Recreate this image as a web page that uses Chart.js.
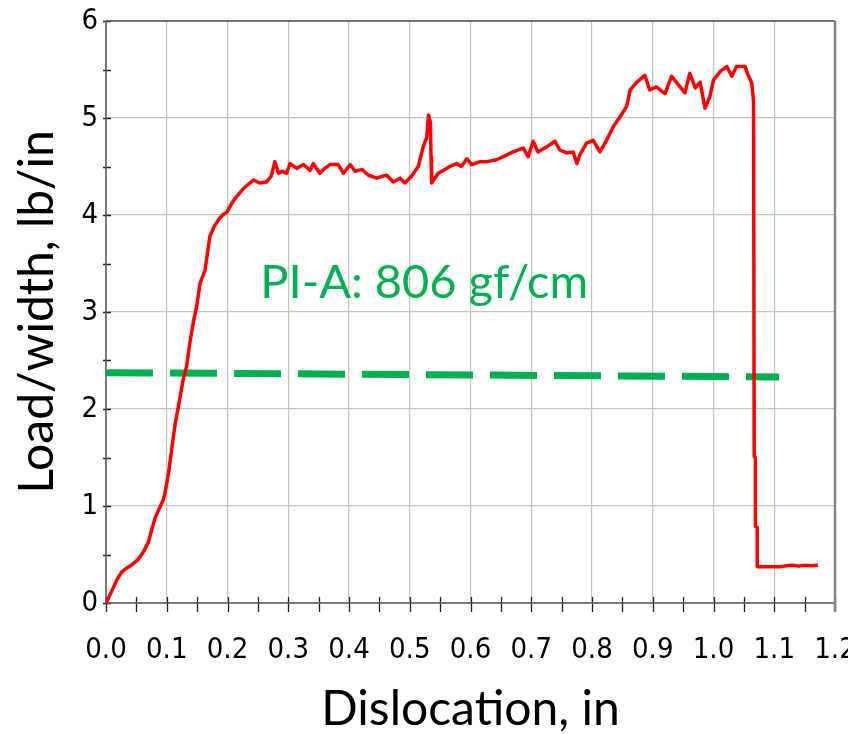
<!DOCTYPE html>
<html>
<head>
<meta charset="utf-8">
<script src="https://cdn.jsdelivr.net/npm/chart.js@4.4.1/dist/chart.umd.min.js"></script>
<style>
html,body{margin:0;padding:0;background:#fff;}
canvas{display:block;}
</style>
</head>
<body>
<canvas id="c" width="848" height="734"></canvas>
<script>
// ---- Data ----
const loadX = [0,0.010,0.018,0.026,0.034,0.042,0.053,0.062,0.070,0.075,0.081,0.089,0.094,0.097,0.103,0.108,0.114,0.119,0.127,0.133,0.138,0.144,0.149,0.155,0.163,0.171,0.178,0.185,0.192,0.199,0.207,0.215,0.226,0.235,0.243,0.253,0.264,0.272,0.278,0.284,0.290,0.297,0.303,0.314,0.325,0.336,0.341,0.352,0.360,0.369,0.382,0.391,0.402,0.410,0.421,0.432,0.446,0.455,0.462,0.473,0.484,0.492,0.503,0.514,0.522,0.528,0.531,0.534,0.535,0.536,0.547,0.555,0.566,0.577,0.585,0.594,0.602,0.616,0.627,0.643,0.660,0.670,0.687,0.695,0.703,0.711,0.725,0.739,0.747,0.758,0.769,0.775,0.780,0.791,0.802,0.813,0.824,0.835,0.846,0.857,0.863,0.874,0.887,0.895,0.906,0.920,0.931,0.945,0.953,0.961,0.970,0.978,0.986,0.994,1.000,1.011,1.022,1.030,1.038,1.052,1.057,1.063,1.066,1.067,1.069,1.069,1.072,1.072,1.110,1.120,1.130,1.140,1.150,1.160,1.172];
const loadY = [0,0.13,0.24,0.32,0.36,0.39,0.45,0.53,0.63,0.75,0.88,0.99,1.06,1.13,1.34,1.58,1.85,2.02,2.30,2.45,2.68,2.90,3.05,3.30,3.43,3.78,3.88,3.95,4.00,4.03,4.12,4.19,4.27,4.32,4.36,4.33,4.34,4.40,4.55,4.43,4.45,4.43,4.53,4.48,4.52,4.46,4.53,4.43,4.48,4.52,4.52,4.43,4.52,4.45,4.47,4.41,4.38,4.40,4.41,4.34,4.38,4.33,4.40,4.50,4.70,4.80,5.03,4.95,4.60,4.33,4.43,4.46,4.50,4.53,4.50,4.58,4.52,4.55,4.55,4.57,4.62,4.65,4.69,4.60,4.76,4.65,4.70,4.76,4.67,4.64,4.65,4.53,4.62,4.74,4.77,4.65,4.77,4.91,5.01,5.12,5.29,5.37,5.44,5.29,5.32,5.25,5.43,5.32,5.26,5.46,5.31,5.37,5.10,5.22,5.39,5.48,5.53,5.43,5.53,5.53,5.44,5.36,5.17,1.51,1.50,0.79,0.78,0.375,0.375,0.385,0.39,0.38,0.39,0.385,0.39];

const refX = [0, 1.108];
const refY = [2.375, 2.33];

const xTickMajor = [0,0.1,0.2,0.3,0.4,0.5,0.6,0.7,0.8,0.9,1.0,1.1,1.2];
const yTickMajor = [0,1,2,3,4,5,6];
const xTickMinorStep = 0.05;
const yTickMinorStep = 0.5;

const annotationText = 'PI-A: 806 gf/cm';
const annotationAt = [0.254, 3.14];

const xTitle = 'Dislocation, in';
const yTitle = 'Load/width, lb/in';

// ---- Chart ----
const tickFont = {family: '"Liberation Sans Narrow","DejaVu Sans Condensed","Arial Narrow",sans-serif', size: 29};
const titleFont = {family: 'Lato, "Open Sans", sans-serif', size: 48, lineHeight: 1};

const framePlugin = {
  id: 'frame',
  beforeDatasetsDraw(chart) {
    const {ctx, chartArea: a, scales: {x, y}} = chart;
    ctx.save();
    ctx.strokeStyle = '#222';
    ctx.lineWidth = 1.3;
    ctx.beginPath();
    for (let v = x.min; v <= x.max + 1e-9; v += xTickMinorStep) {
      const px = Math.round(x.getPixelForValue(v)) + 0.5;
      ctx.moveTo(px, a.bottom - 6);
      ctx.lineTo(px, a.bottom + 9);
    }
    for (let v = y.min; v <= y.max + 1e-9; v += yTickMinorStep) {
      const py = Math.round(y.getPixelForValue(v)) + 0.5;
      ctx.moveTo(a.left - 3, py);
      ctx.lineTo(a.left + 5, py);
    }
    ctx.stroke();
    ctx.strokeStyle = '#5a5a5a';
    ctx.lineWidth = 1.5;
    ctx.beginPath();
    ctx.moveTo(a.left, a.top); ctx.lineTo(a.right, a.top);
    ctx.moveTo(a.left, a.top); ctx.lineTo(a.left, a.bottom);
    ctx.moveTo(a.left, a.bottom); ctx.lineTo(a.right, a.bottom);
    ctx.stroke();
    ctx.strokeStyle = '#858585';
    ctx.lineWidth = 2.5;
    ctx.beginPath();
    ctx.moveTo(a.right, a.top); ctx.lineTo(a.right, a.bottom + 9);
    ctx.stroke();
    ctx.restore();
  },
  afterDatasetsDraw(chart) {
    const {ctx, scales: {x, y}} = chart;
    ctx.save();
    ctx.fillStyle = '#00B050';
    ctx.font = '47px Lato, "Open Sans", sans-serif';
    ctx.textBaseline = 'alphabetic';
    ctx.textAlign = 'left';
    ctx.fillText(annotationText, x.getPixelForValue(annotationAt[0]), y.getPixelForValue(annotationAt[1]));
    ctx.restore();
  }
};

new Chart(document.getElementById('c'), {
  type: 'line',
  data: {
    datasets: [
      {
        label: 'Load',
        data: loadX.map((v, i) => ({x: v, y: loadY[i]})),
        borderColor: '#ff0000',
        borderWidth: 3.5,
        pointRadius: 0,
        tension: 0,
        borderJoinStyle: 'round',
        order: 1
      },
      {
        label: 'PI-A',
        data: refX.map((v, i) => ({x: v, y: refY[i]})),
        borderColor: '#00B050',
        borderWidth: 7,
        borderDash: [47, 17],
        borderCapStyle: 'butt',
        pointRadius: 0,
        order: 2
      }
    ]
  },
  options: {
    responsive: false,
    animation: false,
    layout: {padding: {left: 0, right: 13, top: 21, bottom: 0}},
    plugins: {legend: {display: false}, tooltip: {enabled: false}},
    scales: {
      x: {
        type: 'linear',
        min: 0, max: 1.2,
        afterBuildTicks(s) { s.ticks = xTickMajor.map(v => ({value: v})); },
        afterFit(s) { s.height = 131; s.paddingLeft = 0; s.paddingRight = 0; },
        grid: {color: '#c6c2b6', lineWidth: 1.2, drawTicks: false},
        border: {display: false},
        ticks: {
          font: tickFont, color: '#000', padding: 30, maxRotation: 0, autoSkip: false,
          callback: v => v.toFixed(1)
        },
        title: {display: true, text: xTitle, font: titleFont, color: '#000', padding: {top: 0, bottom: 0}}
      },
      y: {
        min: 0, max: 6,
        afterBuildTicks(s) { s.ticks = yTickMajor.map(v => ({value: v})); },
        afterFit(s) { s.width = 106; s.paddingTop = 0; s.paddingBottom = 0; },
        grid: {color: '#c6c2b6', lineWidth: 1.2, drawTicks: false},
        border: {display: false},
        ticks: {font: tickFont, color: '#000', padding: 8, callback: v => String(v)},
        title: {display: true, text: yTitle, font: titleFont, color: '#000', padding: {top: 14, bottom: 0}}
      }
    }
  },
  plugins: [framePlugin]
});
</script>
</body>
</html>
